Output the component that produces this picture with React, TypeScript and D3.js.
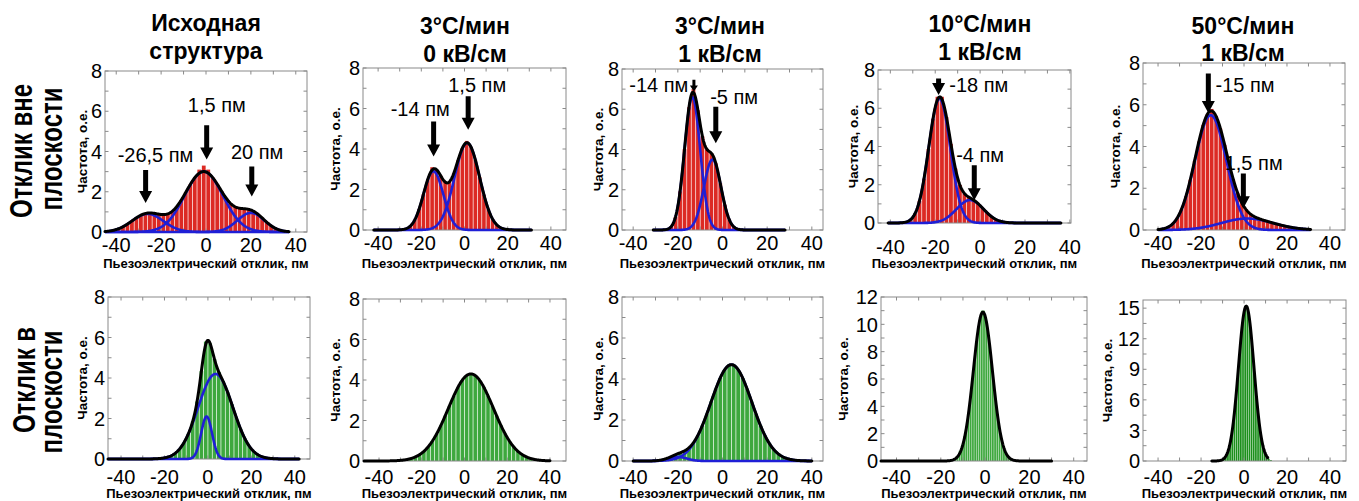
import React, { useEffect, useRef } from 'react';
import * as d3 from 'd3';

const W = 1359;
const H = 501;
const FONT = "'Liberation Sans', Arial, Helvetica, sans-serif";

// column titles, row titles, axis texts
const titles = [
  ['Исходная', 'структура'],
  ['3°C/мин', '0 кВ/см'],
  ['3°C/мин', '1 кВ/см'],
  ['10°C/мин', '1 кВ/см'],
  ['50°C/мин', '1 кВ/см'],
];
const rowTitles = [
  ['Отклик вне', 'плоскости'],
  ['Отклик в', 'плоскости'],
];
const xLabel = 'Пьезоэлектрический отклик, пм';
const yLabel = 'Частота, о.е.';
const xTicks = [-40, -20, 0, 20, 40];
const xMinorTicks = [-40, -30, -20, -10, 0, 10, 20, 30, 40];

// y axes
const outYTicks = [0, 2, 4, 6, 8];
const inYTicks = [
  [0, 2, 4, 6, 8],
  [0, 2, 4, 6, 8],
  [0, 2, 4, 6, 8],
  [0, 2, 4, 6, 8, 10, 12],
  [0, 3, 6, 9, 12, 15],
];
const inYMax = [8, 8, 8, 12, 15.8];

// histograms (o.e.): first bin edge, bin width, heights
const outStart = [-44, -30, -26, -36, -38];
const outHist0 = [0.05, 0.09, 0.16, 0.26, 0.39, 0.55, 0.71, 0.83, 0.92, 0.95, 0.93, 0.89, 0.87, 0.9, 1.03, 1.27, 1.59, 1.98, 2.36, 2.69, 3.1, 3.3, 3.1, 2.71, 2.38, 2.02, 1.68, 1.42, 1.25, 1.18, 1.16, 1.13, 1.05, 0.9, 0.7, 0.49, 0.31, 0.18, 0.09, 0.04];
const outHist1 = [0.02, 0.07, 0.2, 0.5, 1.04, 1.77, 2.5, 3.1, 2.98, 2.68, 2.38, 2.37, 2.79, 3.44, 4.04, 4.4, 4.1, 3.47, 2.61, 1.74, 1.03, 0.54, 0.25, 0.1, 0.04];
const outHist2 = [0.03, 0.17, 0.66, 1.92, 4.02, 6.1, 7.0, 5.95, 4.66, 4.01, 3.82, 3.31, 2.32, 1.26, 0.52, 0.17, 0.04];
const outHist3 = [0.01, 0.05, 0.18, 0.49, 1.16, 2.32, 3.87, 5.45, 6.6, 6.6, 5.54, 4.14, 2.85, 1.99, 1.55, 1.36, 1.21, 1.02, 0.79, 0.55, 0.34, 0.19, 0.1, 0.04];
const outHist4 = [0.07, 0.16, 0.32, 0.59, 1.01, 1.62, 2.41, 3.31, 4.24, 5.03, 5.55, 5.8, 5.46, 4.87, 4.08, 3.22, 2.43, 1.78, 1.31, 0.98, 0.77, 0.64, 0.55, 0.47, 0.4, 0.35, 0.29, 0.24, 0.19, 0.15, 0.11, 0.08, 0.06, 0.04];

const inStart = [-24, -30, -32, -16, -12];
const inStep = [2, 2, 2, 1, 1];
const inHist0 = [0.02, 0.04, 0.08, 0.16, 0.29, 0.5, 0.81, 1.25, 1.86, 2.84, 4.34, 5.8, 5.71, 4.94, 4.3, 3.84, 3.32, 2.71, 2.07, 1.5, 1.01, 0.64, 0.38, 0.22, 0.11, 0.06, 0.03, 0.01];
const inHist1 = [0.04, 0.07, 0.12, 0.2, 0.32, 0.48, 0.7, 0.99, 1.35, 1.77, 2.24, 2.73, 3.22, 3.65, 4.0, 4.22, 4.3, 4.22, 4.0, 3.65, 3.22, 2.73, 2.24, 1.77, 1.35, 0.99, 0.7, 0.48, 0.32, 0.2, 0.12, 0.07, 0.04, 0.02];
const inHist2 = [0.01, 0.02, 0.06, 0.12, 0.21, 0.31, 0.4, 0.5, 0.64, 0.89, 1.26, 1.73, 2.3, 2.91, 3.52, 4.05, 4.46, 4.72, 4.7, 4.46, 4.05, 3.52, 2.91, 2.3, 1.73, 1.24, 0.85, 0.55, 0.35, 0.21, 0.12, 0.06, 0.03, 0.02, 0.01];
const inHist3 = [0.04, 0.08, 0.16, 0.31, 0.75, 1.2, 1.8, 2.39, 3.48, 4.81, 6.31, 7.83, 9.21, 10.26, 11.0, 11.0, 10.26, 9.21, 7.83, 6.31, 4.81, 3.48, 2.39, 1.55, 0.95, 0.55, 0.31, 0.16, 0.08];
const inHist4 = [0.04, 0.09, 0.22, 0.47, 0.93, 1.73, 2.98, 4.73, 6.95, 9.47, 11.95, 13.94, 15.2, 15.2, 13.94, 11.95, 9.47, 6.95, 4.73, 2.98, 1.73, 0.93, 0.47, 0.22, 0.09];

// gaussian fit components: [centre, amplitude, sigma]
const outPeaks0 = [[-26, 0.9, 7], [-1, 3.0, 8.5], [20, 0.95, 6]];
const outPeaks1 = [[-14.4, 2.9, 4.6], [1.2, 4.3, 5.8]];
const outPeaks2 = [[-13.5, 6.6, 3.5], [-4.5, 3.5, 3.85]];
const outPeaks3 = [[-18.1, 6.5, 4.8], [-4.5, 1.2, 6]];
const outPeaks4 = [[-15.5, 5.5, 7.3], [1.5, 0.55, 12]];
const inPeaks0 = [[-0.6, 2.1, 2.5], [3.5, 4.2, 8]];
const inPeaks1 = [[3, 4.3, 10.5]];
const inPeaks2 = [[4, 4.7, 9.2], [-20, 0.2, 4]];
const inPeaks3 = [[-1, 10.9, 4.3]];
const inPeaks4 = [[1, 15.2, 3.6]];

// x span of the fitted curves
const outFitRange = [[-45, 37], [-42, 31], [-31, 28], [-41, 36], [-40, 31]];
const inFitRange = [[-46, 42], [-47, 40], [-40, 40], [-47, 30], [-15, 11]];

// peak labels: text, text x/y, arrow x, arrow top, arrow tip (data units)
const outNotes0 = [
  { text: '-26,5 пм', tx: -22.5, ty: 3.83, ax: -26.9, top: 3.08, tip: 1.44 },
  { text: '1,5 пм', tx: 4.8, ty: 6.3, ax: 0.3, top: 5.3, tip: 3.6 },
  { text: '20 пм', tx: 22.8, ty: 4.0, ax: 20.4, top: 3.25, tip: 1.76 },
];
const outNotes1 = [
  { text: '-14 пм', tx: -20.5, ty: 6.0, ax: -14.3, top: 5.36, tip: 3.63 },
  { text: '1,5 пм', tx: 5.9, ty: 7.18, ax: 1.7, top: 6.6, tip: 4.95 },
];
const outNotes2 = [
  { text: '-14 пм', tx: -28.5, ty: 7.2, ax: -12.8, top: 7.46, tip: 6.88, small: true },
  { text: '-5 пм', tx: 5.2, ty: 6.63, ax: -3.0, top: 6.13, tip: 4.31 },
];
const outNotes3 = [
  { text: '-18 пм', tx: -0.6, ty: 7.2, ax: -18.5, top: 7.56, tip: 6.69 },
  { text: '-4 пм', tx: 0, ty: 3.54, ax: -2.6, top: 3.02, tip: 1.19 },
];
const outNotes4 = [
  { text: '-15 пм', tx: 0.5, ty: 6.94, ax: -16.6, top: 7.5, tip: 5.6 },
  { text: '1,5 пм', tx: 4.5, ty: 3.2, ax: -0.3, top: 2.71, tip: 1.04 },
];

// layout
const outFrames = [[105, 71, 307, 232], [363, 68, 566, 230], [622, 69, 823, 230], [878, 70, 1071, 223], [1143, 63, 1345, 230]];
const outXDomains = [[-45, 45], [-47, 47], [-45, 45], [-45.5, 40.5], [-47, 47]];
const inFrames = [[108, 297, 310, 459], [363, 299, 566, 461], [622, 297, 823, 461], [881, 297, 1087, 461], [1143, 300, 1346, 461]];
const inXDomains = [[-46, 47], [-47.5, 47.5], [-45, 45], [-47, 46], [-47, 47.4]];
const outYLabelX = [82, 335, 598, 853, 1115];
const inYLabelX = [82, 335, 598, 843, 1107];
const outXTickY = [245, 243, 243, 247, 243];
const titleX = [206, 465, 720, 980, 1243];
const titleBase = [[31, 59], [34, 62], [34, 62], [32, 60], [34, 61]];

const RED = '#dc2a24';
const GREEN = '#3ea83e';
const DARK_GREEN = '#1b8f1b';
const BLUE = '#1f1fd6';
const FRAME = '#8a8a8a';

const gauss = (v, [mu, a, s]) => a * Math.exp(-((v - mu) ** 2) / (2 * s * s));

const arrowPath = (cx, yTop, yTip, sw, hw, hl) =>
  `M${cx - sw / 2},${yTop}L${cx + sw / 2},${yTop}L${cx + sw / 2},${yTip - hl}L${cx + hw / 2},${yTip - hl}` +
  `L${cx},${yTip}L${cx - hw / 2},${yTip - hl}L${cx - sw / 2},${yTip - hl}Z`;

function drawPanel(svg, p) {
  const [l, t, r, b] = p.frame;
  const x = d3.scaleLinear().domain(p.xDomain).range([l, r]);
  const y = d3.scaleLinear().domain([0, p.yMax]).range([b, t]);
  const g = svg.append('g');

  // histogram
  const bw = x(p.step) - x(0);
  const gap = p.step > 1 ? 0.7 : 0.45;
  g.append('g')
    .selectAll('rect')
    .data(p.hist)
    .join('rect')
    .attr('x', (d, i) => x(p.start + i * p.step) + gap / 2)
    .attr('y', (d) => y(d))
    .attr('width', bw - gap)
    .attr('height', (d) => y(0) - y(d))
    .attr('fill', p.color);

  // frame + inner ticks
  g.append('rect')
    .attr('x', l).attr('y', t).attr('width', r - l).attr('height', b - t)
    .attr('fill', 'none').attr('stroke', FRAME).attr('stroke-width', 1);
  const tk = 3.5;
  xMinorTicks.forEach((v) => {
    g.append('line').attr('x1', x(v)).attr('x2', x(v)).attr('y1', b).attr('y2', b - tk).attr('stroke', FRAME);
    g.append('line').attr('x1', x(v)).attr('x2', x(v)).attr('y1', t).attr('y2', t + tk).attr('stroke', FRAME);
  });
  d3.range(0, p.yMax + 1e-6, p.yMinor).forEach((v) => {
    g.append('line').attr('x1', l).attr('x2', l + tk).attr('y1', y(v)).attr('y2', y(v)).attr('stroke', FRAME);
    g.append('line').attr('x1', r).attr('x2', r - tk).attr('y1', y(v)).attr('y2', y(v)).attr('stroke', FRAME);
  });

  // fitted curves
  const xs = d3.range(p.fitRange[0], p.fitRange[1] + 1e-9, 0.25);
  const line = d3.line().x((d) => x(d[0])).y((d) => y(d[1]));
  if (p.peaks.length > 1) {
    p.peaks.forEach((pk) => {
      g.append('path')
        .attr('d', line(xs.map((v) => [v, gauss(v, pk)])))
        .attr('fill', 'none').attr('stroke', BLUE).attr('stroke-width', 2.6)
        .attr('stroke-linejoin', 'round');
    });
  }
  g.append('path')
    .attr('d', line(xs.map((v) => [v, d3.sum(p.peaks, (pk) => gauss(v, pk))])))
    .attr('fill', 'none').attr('stroke', '#000').attr('stroke-width', 3)
    .attr('stroke-linejoin', 'round').attr('stroke-linecap', 'round');

  // tick labels
  p.yTicks.forEach((v) => {
    g.append('text')
      .attr('x', l - 3).attr('y', y(v) + 7.2)
      .attr('text-anchor', 'end').attr('font-size', 20).attr('font-family', FONT)
      .text(v);
  });
  xTicks.forEach((v) => {
    g.append('text')
      .attr('x', x(v)).attr('y', p.xTickY + 7.2)
      .attr('text-anchor', 'middle').attr('font-size', 20).attr('font-family', FONT)
      .text(v);
  });
  g.append('text')
    .attr('x', (l + r) / 2).attr('y', p.xLabelY)
    .attr('text-anchor', 'middle').attr('font-size', 13).attr('font-weight', 'bold')
    .attr('font-family', FONT).text(xLabel);
  g.append('text')
    .attr('transform', `translate(${p.yLabelX + 4.5},${(t + b) / 2}) rotate(-90)`)
    .attr('text-anchor', 'middle').attr('font-size', 13.5).attr('font-weight', 'bold')
    .attr('font-family', FONT).text(yLabel);

  // peak labels with arrows
  (p.notes || []).forEach((n) => {
    const small = !!n.small;
    g.append('path')
      .attr('d', arrowPath(x(n.ax), y(n.top), y(n.tip), small ? 3 : 5, small ? 8 : 13, small ? 6 : 12))
      .attr('fill', '#000');
    g.append('text')
      .attr('x', x(n.tx)).attr('y', y(n.ty) + 7)
      .attr('text-anchor', 'middle').attr('font-size', 20).attr('font-family', FONT)
      .text(n.text);
  });
}

const App = () => {
  const svgRef = useRef(null);

  useEffect(() => {
    const svg = d3.select(svgRef.current);
    svg.selectAll('*').remove();
    svg.append('rect').attr('width', W).attr('height', H).attr('fill', '#fff');

    const outHist = [outHist0, outHist1, outHist2, outHist3, outHist4];
    const outPeaks = [outPeaks0, outPeaks1, outPeaks2, outPeaks3, outPeaks4];
    const outNotes = [outNotes0, outNotes1, outNotes2, outNotes3, outNotes4];
    const inHist = [inHist0, inHist1, inHist2, inHist3, inHist4];
    const inPeaks = [inPeaks0, inPeaks1, inPeaks2, inPeaks3, inPeaks4];

    for (let i = 0; i < 5; i++) {
      drawPanel(svg, {
        frame: outFrames[i], xDomain: outXDomains[i], yMax: 8, yTicks: outYTicks, yMinor: 1,
        hist: outHist[i], start: outStart[i], step: 2, peaks: outPeaks[i], fitRange: outFitRange[i],
        color: RED, notes: outNotes[i], xTickY: outXTickY[i], xLabelY: 268, yLabelX: outYLabelX[i],
      });
      drawPanel(svg, {
        frame: inFrames[i], xDomain: inXDomains[i], yMax: inYMax[i], yTicks: inYTicks[i],
        yMinor: i === 4 ? 1.5 : 1,
        hist: inHist[i], start: inStart[i], step: inStep[i], peaks: inPeaks[i], fitRange: inFitRange[i],
        color: i === 4 ? DARK_GREEN : GREEN, notes: [], xTickY: 477, xLabelY: 498, yLabelX: inYLabelX[i],
      });

      // column titles
      titles[i].forEach((s, k) => {
        svg.append('text')
          .attr('x', titleX[i]).attr('y', titleBase[i][k])
          .attr('text-anchor', 'middle').attr('font-size', 23).attr('font-weight', 'bold')
          .attr('font-family', FONT).text(s);
      });
    }

    // row titles (rotated, slightly stretched like the source)
    const rowCy = [[151, 149], [380, 392]];
    const rowBase = [[32, 62], [35, 62]];
    rowTitles.forEach((lines, r) => {
      lines.forEach((s, k) => {
        svg.append('text')
          .attr('transform', `translate(${rowBase[r][k]},${rowCy[r][k]}) rotate(-90) scale(1,1.3)`)
          .attr('text-anchor', 'middle').attr('font-size', 24).attr('font-weight', 'bold')
          .attr('font-family', FONT).text(s);
      });
    });
  }, []);

  return (
    <svg
      ref={svgRef}
      width={W}
      height={H}
      style={{ position: 'absolute', left: 0, top: 0, display: 'block' }}
    />
  );
};

export default App;
